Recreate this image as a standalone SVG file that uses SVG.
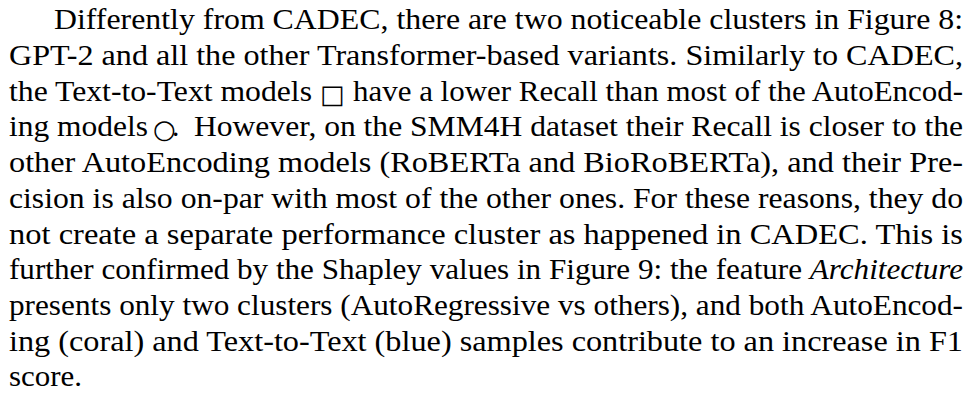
<svg xmlns="http://www.w3.org/2000/svg" width="966" height="394" viewBox="0 0 966 394">
<style>
.i{font-style:italic}
</style>
<rect width="966" height="394" fill="#fff"/>
<g id="paragraph" font-family="Liberation Serif, Times New Roman, serif" font-size="29.4" fill="#000">
<text x="54" y="29.3" textLength="909" lengthAdjust="spacingAndGlyphs">Differently from CADEC, there are two noticeable clusters in Figure 8:</text>
<text x="9" y="65" textLength="954" lengthAdjust="spacingAndGlyphs">GPT-2 and all the other Transformer-based variants. Similarly to CADEC,</text>
<text x="9" y="100.7" textLength="303" lengthAdjust="spacingAndGlyphs">the Text-to-Text models</text>
<text x="320" y="103" font-family="DejaVu Sans, sans-serif" font-size="26">□</text>
<text x="353" y="100.7" textLength="610" lengthAdjust="spacingAndGlyphs">have a lower Recall than most of the AutoEncod-</text>
<text x="9" y="136.4" textLength="139" lengthAdjust="spacingAndGlyphs">ing models</text>
<text x="153" y="136.4"><tspan y="137.5" font-family="DejaVu Sans, sans-serif" font-size="26">○</tspan><tspan x="172" y="136.4">.</tspan></text>
<text x="194" y="136.4" textLength="769" lengthAdjust="spacingAndGlyphs">However, on the SMM4H dataset their Recall is closer to the</text>
<text x="9" y="172.1" textLength="954" lengthAdjust="spacingAndGlyphs">other AutoEncoding models (RoBERTa and BioRoBERTa), and their Pre-</text>
<text x="9" y="207.8" textLength="954" lengthAdjust="spacingAndGlyphs">cision is also on-par with most of the other ones. For these reasons, they do</text>
<text x="9" y="243.5" textLength="954" lengthAdjust="spacingAndGlyphs">not create a separate performance cluster as happened in CADEC. This is</text>
<text x="9" y="279.2" textLength="954" lengthAdjust="spacingAndGlyphs">further confirmed by the Shapley values in Figure 9: the feature <tspan class="i">Architecture</tspan></text>
<text x="9" y="314.9" textLength="954" lengthAdjust="spacingAndGlyphs">presents only two clusters (AutoRegressive vs others), and both AutoEncod-</text>
<text x="9" y="350.6" textLength="954" lengthAdjust="spacingAndGlyphs">ing (coral) and Text-to-Text (blue) samples contribute to an increase in F1</text>
<text x="9" y="386.3" textLength="73" lengthAdjust="spacingAndGlyphs">score.</text>
</g>
</svg>
